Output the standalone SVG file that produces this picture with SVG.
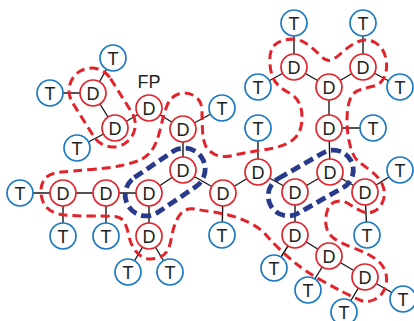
<svg xmlns="http://www.w3.org/2000/svg" width="414" height="321" viewBox="0 0 414 321">
  <style>
    .edge { stroke: #1a1a1a; stroke-width: 1.4; fill: none; }
    .d circle { fill: #ffffff; stroke: #e3232b; stroke-width: 1.7; }
    .t circle { fill: #ffffff; stroke: #1b79c3; stroke-width: 1.7; }
    text { font-family: "Liberation Sans", Arial, sans-serif; font-size: 18px; fill: #222222; text-anchor: middle; }
    .red { fill: none; stroke: #e3232b; stroke-width: 3; stroke-dasharray: 9 5; stroke-linecap: butt; }
    .blue { fill: none; stroke: #283a8c; stroke-width: 4.8; stroke-dasharray: 10 5; }
  </style>

  <!-- bonds -->
  <g id="connectors" class="edge">
    <line x1="50" y1="93" x2="93" y2="93"/>
    <line x1="93" y1="93" x2="113" y2="58"/>
    <line x1="93" y1="93" x2="115" y2="128"/>
    <line x1="115" y1="128" x2="77" y2="148"/>
    <line x1="115" y1="128" x2="149" y2="108"/>
    <line x1="149" y1="108" x2="183" y2="129"/>
    <line x1="183" y1="129" x2="222" y2="108"/>
    <line x1="183" y1="129" x2="183" y2="170"/>
    <line x1="183" y1="170" x2="149" y2="193"/>
    <line x1="183" y1="170" x2="223" y2="193"/>
    <line x1="149" y1="193" x2="106" y2="193"/>
    <line x1="106" y1="193" x2="63" y2="193"/>
    <line x1="63" y1="193" x2="20" y2="193"/>
    <line x1="63" y1="193" x2="63" y2="236"/>
    <line x1="106" y1="193" x2="106" y2="236"/>
    <line x1="149" y1="193" x2="149" y2="236"/>
    <line x1="149" y1="236" x2="128" y2="272"/>
    <line x1="149" y1="236" x2="170" y2="272"/>
    <line x1="223" y1="193" x2="222" y2="235"/>
    <line x1="223" y1="193" x2="258" y2="172"/>
    <line x1="258" y1="172" x2="258" y2="128"/>
    <line x1="258" y1="172" x2="295" y2="192"/>
    <line x1="295" y1="192" x2="330" y2="172"/>
    <line x1="295" y1="192" x2="295" y2="235"/>
    <line x1="330" y1="172" x2="329" y2="128"/>
    <line x1="330" y1="172" x2="365" y2="192"/>
    <line x1="365" y1="192" x2="400" y2="170"/>
    <line x1="365" y1="192" x2="367" y2="235"/>
    <line x1="329" y1="128" x2="373" y2="128"/>
    <line x1="329" y1="128" x2="329" y2="87"/>
    <line x1="329" y1="87" x2="294" y2="67"/>
    <line x1="329" y1="87" x2="363" y2="67"/>
    <line x1="294" y1="67" x2="294" y2="23"/>
    <line x1="294" y1="67" x2="258" y2="87"/>
    <line x1="363" y1="67" x2="363" y2="23"/>
    <line x1="363" y1="67" x2="400" y2="87"/>
    <line x1="295" y1="235" x2="274" y2="268"/>
    <line x1="295" y1="235" x2="329" y2="256"/>
    <line x1="329" y1="256" x2="308" y2="290"/>
    <line x1="329" y1="256" x2="365" y2="277"/>
    <line x1="365" y1="277" x2="344" y2="312"/>
    <line x1="365" y1="277" x2="403" y2="299"/>
  </g>

  <!-- D units -->
  <g id="d1" class="d" transform="translate(93,93)"><circle r="13"/><text y="6.5">D</text></g>
  <g id="d2" class="d" transform="translate(115,128)"><circle r="13"/><text y="6.5">D</text></g>
  <g id="d-fp" class="d" transform="translate(149,108)"><circle r="13"/><text y="6.5">D</text><text y="-20" font-size="17">FP</text></g>
  <g id="d3" class="d" transform="translate(183,129)"><circle r="13"/><text y="6.5">D</text></g>
  <g id="d4" class="d" transform="translate(183,170)"><circle r="13"/><text y="6.5">D</text></g>
  <g id="d5" class="d" transform="translate(149,193)"><circle r="13"/><text y="6.5">D</text></g>
  <g id="d6" class="d" transform="translate(106,193)"><circle r="13"/><text y="6.5">D</text></g>
  <g id="d7" class="d" transform="translate(63,193)"><circle r="13"/><text y="6.5">D</text></g>
  <g id="d8" class="d" transform="translate(149,236)"><circle r="13"/><text y="6.5">D</text></g>
  <g id="d9" class="d" transform="translate(223,193)"><circle r="13"/><text y="6.5">D</text></g>
  <g id="d10" class="d" transform="translate(258,172)"><circle r="13"/><text y="6.5">D</text></g>
  <g id="d11" class="d" transform="translate(295,192)"><circle r="13"/><text y="6.5">D</text></g>
  <g id="d12" class="d" transform="translate(330,172)"><circle r="13"/><text y="6.5">D</text></g>
  <g id="d13" class="d" transform="translate(365,192)"><circle r="13"/><text y="6.5">D</text></g>
  <g id="d14" class="d" transform="translate(329,128)"><circle r="13"/><text y="6.5">D</text></g>
  <g id="d15" class="d" transform="translate(329,87)"><circle r="13"/><text y="6.5">D</text></g>
  <g id="d16" class="d" transform="translate(294,67)"><circle r="13"/><text y="6.5">D</text></g>
  <g id="d17" class="d" transform="translate(363,67)"><circle r="13"/><text y="6.5">D</text></g>
  <g id="d18" class="d" transform="translate(295,235)"><circle r="13"/><text y="6.5">D</text></g>
  <g id="d19" class="d" transform="translate(329,256)"><circle r="13"/><text y="6.5">D</text></g>
  <g id="d20" class="d" transform="translate(365,277)"><circle r="13"/><text y="6.5">D</text></g>

  <!-- T units -->
  <g id="t1" class="t" transform="translate(50,93)"><circle r="13"/><text y="6.5">T</text></g>
  <g id="t2" class="t" transform="translate(113,58)"><circle r="13"/><text y="6.5">T</text></g>
  <g id="t3" class="t" transform="translate(77,148)"><circle r="13"/><text y="6.5">T</text></g>
  <g id="t4" class="t" transform="translate(222,108)"><circle r="13"/><text y="6.5">T</text></g>
  <g id="t5" class="t" transform="translate(20,193)"><circle r="13"/><text y="6.5">T</text></g>
  <g id="t6" class="t" transform="translate(63,236)"><circle r="13"/><text y="6.5">T</text></g>
  <g id="t7" class="t" transform="translate(106,236)"><circle r="13"/><text y="6.5">T</text></g>
  <g id="t8" class="t" transform="translate(128,272)"><circle r="13"/><text y="6.5">T</text></g>
  <g id="t9" class="t" transform="translate(170,272)"><circle r="13"/><text y="6.5">T</text></g>
  <g id="t10" class="t" transform="translate(222,235)"><circle r="13"/><text y="6.5">T</text></g>
  <g id="t11" class="t" transform="translate(258,128)"><circle r="13"/><text y="6.5">T</text></g>
  <g id="t12" class="t" transform="translate(258,87)"><circle r="13"/><text y="6.5">T</text></g>
  <g id="t13" class="t" transform="translate(294,23)"><circle r="13"/><text y="6.5">T</text></g>
  <g id="t14" class="t" transform="translate(363,23)"><circle r="13"/><text y="6.5">T</text></g>
  <g id="t15" class="t" transform="translate(400,87)"><circle r="13"/><text y="6.5">T</text></g>
  <g id="t16" class="t" transform="translate(373,128)"><circle r="13"/><text y="6.5">T</text></g>
  <g id="t17" class="t" transform="translate(400,170)"><circle r="13"/><text y="6.5">T</text></g>
  <g id="t18" class="t" transform="translate(367,235)"><circle r="13"/><text y="6.5">T</text></g>
  <g id="t19" class="t" transform="translate(274,268)"><circle r="13"/><text y="6.5">T</text></g>
  <g id="t20" class="t" transform="translate(308,290)"><circle r="13"/><text y="6.5">T</text></g>
  <g id="t21" class="t" transform="translate(344,312)"><circle r="13"/><text y="6.5">T</text></g>
  <g id="t22" class="t" transform="translate(403,299)"><circle r="13"/><text y="6.5">T</text></g>

  <!-- dashed domain outlines -->
  <g id="domains">
    <rect class="red" x="-46" y="-22.5" width="85" height="45" rx="22.5" transform="translate(104,110.5) rotate(57.8)"/>
    <path class="red" d="M152,150 Q157,143 160,130 Q163,117 166.5,107 Q170,97 178.5,94 Q187,91 194.5,96 Q202,101 202,110.5 Q202,120 202.5,130 Q203,140 205.5,145.5 Q208,151 215,154.5 Q222,158 232.5,155.5 Q243,153 263,150 Q283,147 291.5,141 Q300,135 301.5,124 Q303,113 300,105 Q297,97 288.5,92.5 Q280,88 275.5,82 Q271,76 270,64.5 Q269,53 273,47 Q277,41 287,39.5 Q297,38 304.5,42.5 Q312,47 318.5,54 Q325,61 329.5,60.5 Q334,60 342,52.5 Q350,45 358.5,41.5 Q367,38 375,42.5 Q383,47 385.5,57 Q388,67 385,75.5 Q382,84 374,86 Q366,88 359.5,90 Q353,92 350,99.5 Q347,107 347,120 Q347,133 350,145 Q353,157 358,161 Q363,165 371,171 Q379,177 382.5,185 Q386,193 383,201 Q380,209 373.5,211.5 Q367,214 361,211 Q355,208 349,204 Q343,200 336.5,201.5 Q330,203 327.5,210 Q325,217 326,225 Q327,233 333.5,238 Q340,243 353.5,248 Q367,253 375,258.5 Q383,264 385.5,272 Q388,280 385,288 Q382,296 374.5,299.5 Q367,303 361,300.5 Q355,298 344,292.5 Q333,287 320,279.5 Q307,272 298.5,265.5 Q290,259 281.5,251 Q273,243 266.5,235.5 Q260,228 250,223 Q240,218 230,215.5 Q220,213 210,211.5 Q200,210 194.5,209 Q189,208 184.5,210.5 Q180,213 176.5,220.5 Q173,228 171.5,237.5 Q170,247 166.5,252 Q163,257 155.5,258.5 Q148,260 142.5,257 Q137,254 133.5,248 Q130,242 128.5,234.5 Q127,227 124.5,222.5 Q122,218 117.5,217 Q113,216 90,216 Q67,216 58.5,214 Q50,212 45.5,206 Q41,200 41,191.5 Q41,183 45.5,178 Q50,173 61.5,172 Q73,171 91.5,169.5 Q110,168 121.5,165.5 Q133,163 140,160 Q147,157 152,150 Z"/>
    <rect class="blue" x="-45" y="-21" width="88" height="42" rx="21" transform="translate(166,181.5) rotate(-34.1)"/>
    <rect class="blue" x="-48" y="-20" width="92" height="40" rx="20" transform="translate(312.5,182) rotate(-29.7)"/>
  </g>
</svg>
